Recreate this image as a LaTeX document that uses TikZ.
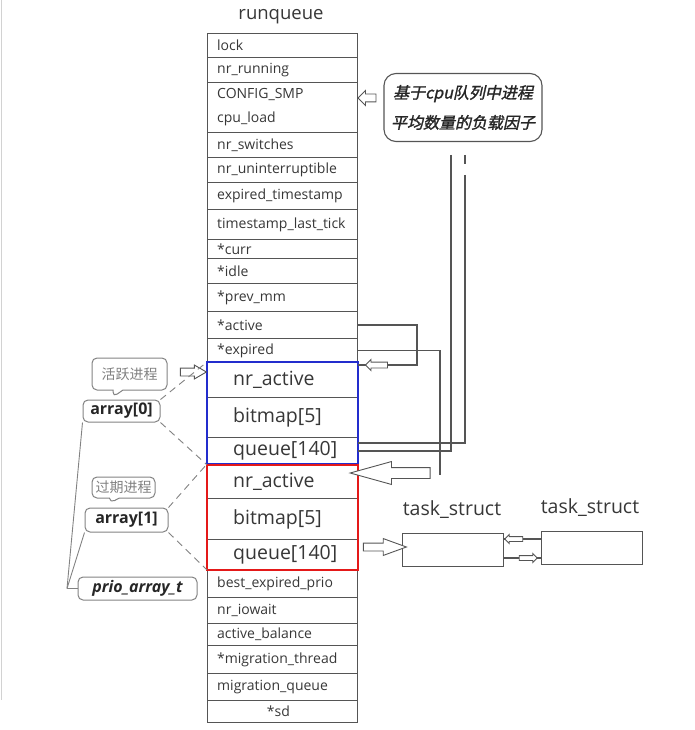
\documentclass[tikz,border=0pt]{standalone}
\usepackage{fontspec}
\setmainfont{Open Sans}
\newfontfamily\cjk{Noto Sans CJK SC}
\newfontfamily\cjkbi[FakeSlant=0.22,FakeBold=1.5]{Noto Sans CJK SC}
\usetikzlibrary{shapes.arrows,shapes.callouts,calc}
\definecolor{lineg}{RGB}{85,85,85}
\definecolor{txt}{RGB}{55,55,55}
\definecolor{myblue}{RGB}{35,45,205}
\definecolor{myred}{RGB}{228,25,25}
\definecolor{tagg}{RGB}{130,130,130}
\newcommand\rqrow[5]{\node[rowbox,minimum height=#3pt] (#1) at (207,#2) {};\node[#4] (#1t) at (#1.west) {#5};}
\tikzset{
 conn/.style={draw=lineg, line width=1.1pt},
 rowbox/.style={draw=lineg, line width=0.9pt, rectangle, minimum width=150pt, inner sep=0pt, anchor=north west},
 rowtext/.style={anchor=west, xshift=10pt, inner sep=0pt, text=txt, align=left, font=\fontsize{14}{24}\selectfont},
 bigtext/.style={anchor=west, xshift=26pt, inner sep=0pt, text=txt, font=\fontsize{19.5}{22}\selectfont},
 hollow/.style={single arrow, draw=lineg, fill=white, line width=0.9pt, inner xsep=0pt},
 tag/.style={draw=tagg, line width=1pt, rounded corners=5pt, inner sep=0pt},
 dashln/.style={draw=tagg, line width=0.9pt, dash pattern=on 7pt off 5pt},
 tagline/.style={draw=tagg, line width=0.9pt},
}
\begin{document}
\begin{tikzpicture}[x=1pt,y=-1pt]
\useasboundingbox (0,0) rectangle (695,730);
\draw[gray!35, line width=1.5pt] (1.5,0) -- (1.5,700);
\node[font=\fontsize{18.5}{20}\selectfont, text=txt] (title) at (281,17) {runqueue};
\rqrow{lock}{33}{24}{rowtext}{lock}
\rqrow{nrrun}{57}{25}{rowtext}{nr\_running}
\rqrow{smp}{82}{50}{rowtext}{CONFIG\_SMP\\cpu\_load}
\rqrow{nrsw}{132}{25}{rowtext}{nr\_switches}
\rqrow{nrun}{157}{25}{rowtext}{nr\_uninterruptible}
\rqrow{expts}{182}{27}{rowtext}{expired\_timestamp}
\rqrow{tslt}{209}{30}{rowtext}{timestamp\_last\_tick}
\rqrow{curr}{239}{19}{rowtext}{*curr}
\rqrow{idle}{258}{25}{rowtext}{*idle}
\rqrow{prevmm}{283}{28}{rowtext}{*prev\_mm}
\rqrow{active}{311}{27}{rowtext}{*active}
\rqrow{expired}{338}{24}{rowtext}{*expired}
\rqrow{ba}{362}{35}{bigtext}{nr\_active}
\rqrow{bb}{397}{40}{bigtext}{bitmap[5]}
\rqrow{bq}{437}{27}{bigtext}{queue[140]}
\rqrow{ra}{464}{34}{bigtext}{nr\_active}
\rqrow{rb}{498}{41}{bigtext}{bitmap[5]}
\rqrow{rq}{539}{30}{bigtext}{queue[140]}
\rqrow{bep}{569}{28}{rowtext}{best\_expired\_prio}
\rqrow{iow}{597}{26}{rowtext}{nr\_iowait}
\rqrow{actb}{623}{22}{rowtext}{active\_balance}
\rqrow{mig}{645}{28}{rowtext}{*migration\_thread}
\rqrow{migq}{673}{27}{rowtext}{migration\_queue}
\node[rowbox, minimum height=22pt] (sd) at (207,700) {};
\node[inner sep=0pt, text=txt, font=\fontsize{14}{16}\selectfont] (sdt) at ([xshift=-4pt]sd.center) {*sd};
\draw[myblue, line width=2.4pt] (ba.north west) rectangle ([yshift=1.2pt]bq.south east);
\draw[myred, line width=2.4pt] ([yshift=-1.2pt]ra.north west) rectangle (rq.south east);
% load factor callout
\node[draw=lineg, line width=1.1pt, rounded corners=12pt, minimum width=158pt, minimum height=68pt, inner sep=0pt, align=center, font=\cjkbi\fontsize{16}{30}\selectfont, text=black!85] (load) at (463,107.5) {基于cpu队列中进程\\平均数量的负载因子};
\node[hollow, shape border rotate=180, minimum height=18pt, inner ysep=3.5pt, single arrow head extend=3.5pt] (la) at (369,98) {};
% lines from the callout
\coordinate (v1) at (451,155);
\coordinate (v2) at (465,175);
\draw[conn] (v1) |- (bq.east);
\draw[conn] (465,155) -- (465,164);
\draw[conn] (v2) |- ([yshift=8pt]bq.east);
% *active
\coordinate (aj) at (417,365);
\draw[conn] (active.east) -| (aj) -- (ba.east |- aj);
\node[hollow, shape border rotate=180, minimum height=22pt, inner ysep=2.5pt, single arrow head extend=2.5pt] (aa) at (378,365) {};
% *expired
\coordinate (ej) at (440,475);
\draw[conn] (expired.east) -| (ej);
\node[hollow, shape border rotate=180, minimum height=80pt, inner ysep=5pt, single arrow head extend=6pt, single arrow tip angle=31] (ea) at (400,473) {};
% task structs
\node[draw=lineg, line width=1pt, minimum width=101pt, minimum height=33pt, inner sep=0pt] (t1) at (452.5,549.5) {};
\node[draw=lineg, line width=1pt, minimum width=101pt, minimum height=33pt, inner sep=0pt] (t2) at (591.5,547.5) {};
\node[font=\fontsize{19.5}{20}\selectfont, text=txt] (t1l) at (452,510) {task\_struct};
\node[font=\fontsize{19.5}{20}\selectfont, text=txt] (t2l) at (590,508) {task\_struct};
\node[hollow, minimum height=43pt, inner ysep=3.5pt, single arrow head extend=4.5pt, single arrow tip angle=40] (qa) at (379.5,547) {};
\draw[conn] (t1.east |- 0,539) -- (t2.west |- 0,539);
\draw[conn] (t1.east |- 0,558) -- (t2.west |- 0,558);
\node[hollow, shape border rotate=180, minimum height=18pt, inner ysep=2pt, single arrow head extend=2pt] (ua) at (515,539) {};
\node[hollow, minimum height=18pt, inner ysep=2pt, single arrow head extend=2pt] (da) at (527,558) {};
% left tags
\node[tag, rectangle callout, callout absolute pointer={(113,397)}, callout pointer width=10pt, minimum width=75pt, minimum height=32pt, font=\cjk\fontsize{14}{16}\selectfont, text=gray] (actc) at (129.5,374) {活跃进程};
\node[tag, rectangle callout, callout absolute pointer={(110,503)}, callout pointer width=10pt, minimum width=63pt, minimum height=21pt, font=\cjk\fontsize{14}{16}\selectfont, text=gray] (expc) at (123.5,487.5) {过期进程};
\node[tag, minimum width=77pt, minimum height=22pt, font=\bfseries\fontsize{16}{18}\selectfont, text=black!85] (a0) at (121.5,411) {array[0]};
\node[tag, minimum width=83pt, minimum height=24pt, font=\bfseries\fontsize{16}{18}\selectfont, text=black!85] (a1) at (126.5,520) {array[1]};
\node[tag, minimum width=119pt, minimum height=23pt, font=\bfseries\itshape\fontsize{16}{18}\selectfont, text=black!85] (pat) at (137.5,588.5) {prio\_array\_t};
\node[hollow, minimum height=26pt, inner ysep=3.5pt, single arrow head extend=3pt, single arrow tip angle=60] (aarr) at (190,372) {};
\draw[dashln] (a0.north east) -- (ba.north west);
\draw[dashln] (a0.south east) -- (bq.south west);
\draw[dashln] (a1.north east) -- (ra.north west);
\draw[dashln] (a1.south east) -- (rq.south west);
\coordinate (pj) at (67,588.5);
\draw[tagline] (a0.south west) -- (pj);
\draw[tagline] (a1.south west) -- (pj);
\draw[tagline] (pj) -- (pat.west);
\end{tikzpicture}
\end{document}
